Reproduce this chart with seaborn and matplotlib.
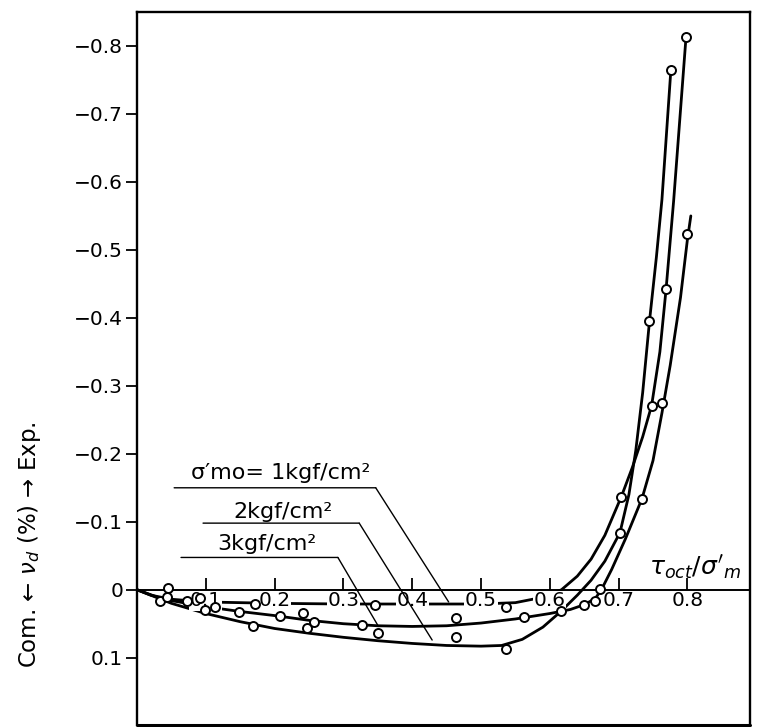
import matplotlib
matplotlib.use("Agg")
import pandas as pd
from matplotlib import pyplot as plt
import seaborn as sns

pts1_x = [0.045, 0.091, 0.171, 0.346, 0.537, 0.704, 0.748, 0.769, 0.798]
pts1_y = [-0.003, 0.012, 0.021, 0.022, 0.025, -0.137, -0.271, -0.442, -0.813]
pts2_x = [0.034, 0.099, 0.168, 0.247, 0.350, 0.464, 0.536, 0.616, 0.702, 0.744, 0.776]
pts2_y = [0.016, 0.030, 0.053, 0.056, 0.064, 0.070, 0.087, 0.032, -0.084, -0.396, -0.765]
pts3_x = [0.043, 0.072, 0.113, 0.148, 0.208, 0.242, 0.257, 0.327, 0.463, 0.562,
          0.650, 0.666, 0.673, 0.734, 0.763, 0.800]
pts3_y = [0.010, 0.017, 0.025, 0.033, 0.038, 0.034, 0.047, 0.052, 0.041, 0.040,
          0.022, 0.016, -0.001, -0.134, -0.275, -0.524]

# the hand drawn curves at a few knots
curve1_x = [0, 0.02, 0.05, 0.1, 0.2, 0.3, 0.4, 0.5, 0.55, 0.58, 0.60, 0.617, 0.64,
            0.66, 0.68, 0.704, 0.72, 0.735, 0.748, 0.76, 0.769, 0.78, 0.798]
curve1_y = [0, 0.008, 0.014, 0.018, 0.020, 0.021, 0.021, 0.021, 0.019, 0.013, 0.007, 0.0,
            -0.02, -0.045, -0.08, -0.137, -0.18, -0.225, -0.271, -0.35, -0.442, -0.572, -0.813]
curve2_x = [0, 0.05, 0.1, 0.15, 0.2, 0.25, 0.3, 0.35, 0.4, 0.45, 0.5, 0.53, 0.56, 0.59,
            0.616, 0.64, 0.66, 0.68, 0.702, 0.715, 0.725, 0.735, 0.745, 0.755, 0.763, 0.776]
curve2_y = [0, 0.020, 0.035, 0.047, 0.057, 0.064, 0.070, 0.075, 0.079, 0.082, 0.083, 0.082,
            0.073, 0.055, 0.032, 0.008, -0.014, -0.042, -0.084, -0.14, -0.205, -0.29,
            -0.396, -0.49, -0.574, -0.765]
curve3_x = [0, 0.03, 0.05, 0.1, 0.15, 0.2, 0.25, 0.3, 0.35, 0.4, 0.45, 0.5, 0.55, 0.6,
            0.63, 0.65, 0.666, 0.675, 0.69, 0.71, 0.734, 0.75, 0.763, 0.775, 0.79, 0.800, 0.805]
curve3_y = [0, 0.011, 0.016, 0.025, 0.032, 0.038, 0.045, 0.050, 0.053, 0.054, 0.053, 0.049,
            0.043, 0.035, 0.029, 0.022, 0.013, 0.0, -0.03, -0.075, -0.134, -0.19, -0.26,
            -0.33, -0.43, -0.515, -0.55]

series_labels = ["σ′mo= 1kgf/cm²", "2kgf/cm²", "3kgf/cm²"]

yticks = [-0.8, -0.7, -0.6, -0.5, -0.4, -0.3, -0.2, -0.1, 0, 0.1]
ytick_labels = ["−0.8", "−0.7", "−0.6", "−0.5", "−0.4", "−0.3", "−0.2", "−0.1", "0", "0.1"]
xticks = [0.1, 0.2, 0.3, 0.4, 0.5, 0.6, 0.7, 0.8]
xtick_labels = ["0.1", "0.2", "0.3", "0.4", "0.5", "0.6", "0.7", "0.8"]

# label placement: text centre, underline start/end, leader target
label_pos = [
    dict(text=(0.209, -0.172), line=(0.054, 0.347, -0.150), tip=(0.453, 0.018)),
    dict(text=(0.212, -0.115), line=(0.096, 0.323, -0.098), tip=(0.429, 0.074)),
    dict(text=(0.189, -0.068), line=(0.064, 0.292, -0.0475), tip=(0.351, 0.054)),
]

sns.set_theme(style="white")
plt.rcParams["font.family"] = ["DejaVu Sans"]
plt.rcParams["mathtext.fontset"] = "dejavusans"
plt.rcParams["text.color"] = "black"

fig = plt.figure(figsize=(7.6, 7.27), dpi=100)
ax = fig.add_axes([137 / 760, 2 / 727, 613 / 760, 713 / 727])

curves = [(curve1_x, curve1_y), (curve2_x, curve2_y), (curve3_x, curve3_y)]
points = [(pts1_x, pts1_y), (pts2_x, pts2_y), (pts3_x, pts3_y)]

for (cx, cy), (px, py) in zip(curves, points):
    sns.lineplot(x=cx, y=cy, sort=False, estimator=None, color="black",
                 linewidth=2.0, ax=ax, zorder=2)
    sns.scatterplot(x=px, y=py, marker="o", s=42, facecolor="white",
                    edgecolor="black", linewidth=1.4, ax=ax, zorder=4)

ax.set_xlim(0, 0.891)
ax.set_ylim(0.199, -0.85)

# x axis drawn as the zero line, with ticks pointing up
ax.spines["bottom"].set_position(("data", 0))
for side in ["left", "right", "top", "bottom"]:
    ax.spines[side].set_linewidth(1.7)
    ax.spines[side].set_color("black")
ax.spines["bottom"].set_linewidth(1.4)
ax.plot([0, 1], [0, 0], transform=ax.transAxes, color="black", lw=2.2, clip_on=False)
ax.set_axisbelow(False)

ax.set_xticks(xticks)
ax.set_xticklabels(xtick_labels)
ax.set_yticks(yticks)
ax.set_yticklabels(ytick_labels)
ax.tick_params(axis="x", direction="in", length=9, width=1.3, pad=1, labelsize=14.5,
               bottom=True, colors="black")
ax.tick_params(axis="y", direction="out", length=8, width=1.3, pad=2, labelsize=14.5,
               left=True, colors="black")
for lbl in ax.get_xticklabels():
    lbl.set_bbox(dict(facecolor="white", edgecolor="none", pad=0.5))
ax.set_xlabel("")
ax.set_ylabel("")

ax.text(0.811, -0.032, r"$\tau_{oct}/\sigma'_{m}$", fontsize=18, ha="center", va="center")

for lab, pos in zip(series_labels, label_pos):
    x0, x1, yl = pos["line"]
    ax.text(pos["text"][0], pos["text"][1], lab, fontsize=16, ha="center", va="center")
    ax.annotate("", xy=pos["tip"], xytext=(x1, yl),
                arrowprops=dict(arrowstyle="-", color="black", lw=1.0,
                                shrinkA=0, shrinkB=0))
    ax.annotate("", xy=(x0, yl), xytext=(x1, yl),
                arrowprops=dict(arrowstyle="-", color="black", lw=1.0,
                                shrinkA=0, shrinkB=0))

fig.text(30 / 760, 1 - 545 / 727, r"Com. ← $\nu_d$ (%) → Exp.", rotation=90,
         fontsize=16.5, ha="center", va="center")

fig.savefig("out.png", dpi=100)
